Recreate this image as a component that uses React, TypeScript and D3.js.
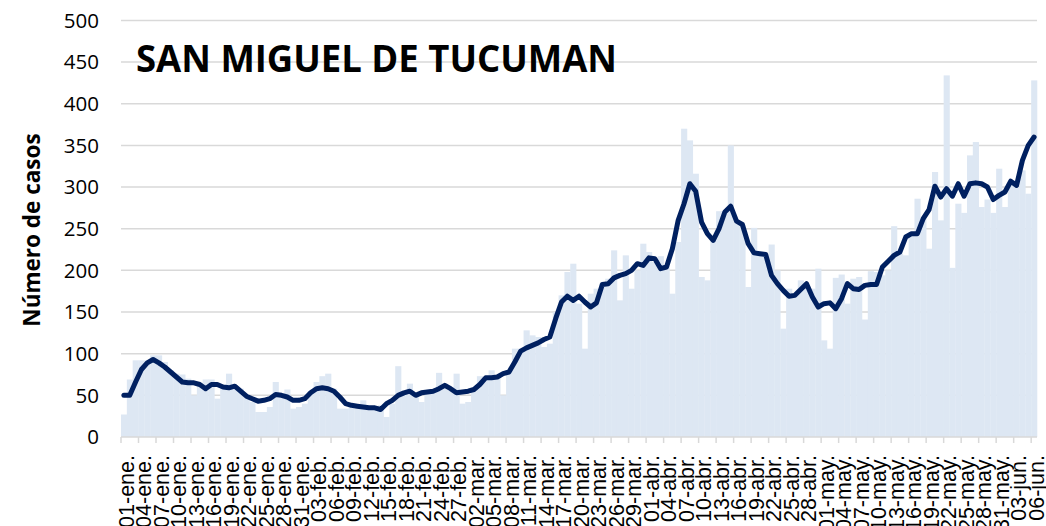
import React, { useEffect, useRef } from "react";
import * as d3 from "d3";

// daily cases, 01-ene to 06-jun
const cases = [
  27, 69, 92, 92, 92, 98, 98, 90, 80, 76,
  75, 70, 50, 65, 69, 69, 46, 62, 76, 62,
  58, 50, 42, 30, 30, 36, 66, 52, 57, 34,
  36, 40, 55, 66, 73, 76, 58, 34, 34, 38,
  36, 44, 36, 35, 38, 24, 40, 85, 55, 64,
  52, 42, 56, 57, 77, 64, 60, 76, 40, 42,
  55, 73, 72, 80, 72, 50, 78, 106, 106, 128,
  122, 120, 108, 112, 150, 170, 198, 208, 160, 106,
  172, 178, 185, 190, 224, 164, 218, 178, 200, 232,
  222, 210, 217, 205, 172, 234, 370, 356, 316, 192,
  188, 238, 271, 271, 350, 260, 255, 180, 251, 220,
  218, 231, 200, 130, 178, 170, 188, 182, 178, 202,
  116, 106, 191, 195, 160, 190, 192, 141, 199, 198,
  194, 200, 253, 220, 218, 245, 286, 262, 226, 318,
  260, 434, 203, 280, 269, 338, 354, 276, 285, 269,
  322, 276, 305, 300, 320, 292, 428,
];

// moving average line
const average = [
  50, 50, 66, 81, 89, 93, 89, 84, 78, 72,
  66, 65, 65, 63, 58, 63, 63, 60, 59, 61,
  55, 49, 46, 43, 44, 46, 51, 50, 48, 44,
  44, 46, 53, 58, 59, 58, 55, 48, 40, 38,
  37, 36, 35, 35, 33, 40, 44, 50, 53, 55,
  50, 53, 54, 55, 58, 62, 58, 53, 54, 55,
  57, 63, 71, 71, 72, 76, 78, 90, 103, 107,
  110, 113, 117, 120, 142, 162, 169, 164, 169, 162,
  156, 161, 183, 184, 191, 194, 196, 200, 208, 206,
  215, 214, 202, 204, 226, 260, 280, 304, 295, 258,
  244, 236, 250, 270, 277, 259, 255, 232, 221, 220,
  219, 194, 184, 176, 169, 170, 177, 184, 168, 156,
  160, 161, 154, 166, 184, 178, 177, 182, 183, 183,
  204, 211, 218, 222, 240, 244, 244, 262, 273, 301,
  288, 298, 289, 304, 289, 304, 305, 304, 300, 285,
  290, 294, 307, 302, 332, 350, 360,
];

// one label every third day
const tickLabels = [
  "01-ene.", "04-ene.", "07-ene.", "10-ene.", "13-ene.", "16-ene.", "19-ene.",
  "22-ene.", "25-ene.", "28-ene.", "31-ene.", "03-feb.", "06-feb.", "09-feb.",
  "12-feb.", "15-feb.", "18-feb.", "21-feb.", "24-feb.", "27-feb.", "02-mar.",
  "05-mar.", "08-mar.", "11-mar.", "14-mar.", "17-mar.", "20-mar.", "23-mar.",
  "26-mar.", "29-mar.", "01-abr.", "04-abr.", "07-abr.", "10-abr.", "13-abr.",
  "16-abr.", "19-abr.", "22-abr.", "25-abr.", "28-abr.", "01-may.", "04-may.",
  "07-may.", "10-may.", "13-may.", "16-may.", "19-may.", "22-may.", "25-may.",
  "28-may.", "31-may.", "03-jun.", "06-jun.",
];

const yTicks = [0, 50, 100, 150, 200, 250, 300, 350, 400, 450, 500];

const App = () => {
  const svgRef = useRef<SVGSVGElement>(null);

  useEffect(() => {
    drawChart();
  }, []);

  const drawChart = () => {
    const left = 121;
    const right = 1037;
    const top = 20.4;
    const bottom = 437;

    const svg = d3.select(svgRef.current);
    svg.selectAll("*").remove();

    const days = d3.range(cases.length);
    const x = d3.scaleBand<number>().domain(days).range([left, right]).padding(0);
    const y = d3.scaleLinear().domain([0, 500]).range([bottom, top]);

    // gridlines
    svg
      .append("g")
      .selectAll("line")
      .data(yTicks.filter((t) => t > 0))
      .enter()
      .append("line")
      .attr("x1", left)
      .attr("x2", right)
      .attr("y1", (d) => y(d))
      .attr("y2", (d) => y(d))
      .attr("stroke", "#d9d9d9")
      .attr("stroke-width", 1.5);

    // bars
    svg
      .append("g")
      .selectAll("rect")
      .data(cases)
      .enter()
      .append("rect")
      .attr("x", (d, i) => x(i)!)
      .attr("width", x.bandwidth() + 0.3)
      .attr("y", (d) => y(d))
      .attr("height", (d) => bottom - y(d))
      .attr("fill", "#dde7f3");

    // x axis line + ticks
    svg
      .append("line")
      .attr("x1", left)
      .attr("x2", right)
      .attr("y1", bottom)
      .attr("y2", bottom)
      .attr("stroke", "#d9d9d9")
      .attr("stroke-width", 1.5);

    svg
      .append("g")
      .selectAll("line")
      .data(tickLabels)
      .enter()
      .append("line")
      .attr("x1", (d, i) => x(i * 3)!)
      .attr("x2", (d, i) => x(i * 3)!)
      .attr("y1", bottom)
      .attr("y2", bottom + 6)
      .attr("stroke", "#d9d9d9")
      .attr("stroke-width", 1.5);

    // moving average
    const line = d3
      .line<number>()
      .x((d, i) => x(i)! + x.bandwidth() / 2)
      .y((d) => y(d));

    svg
      .append("path")
      .datum(average)
      .attr("d", line)
      .attr("fill", "none")
      .attr("stroke", "#002060")
      .attr("stroke-width", 5)
      .attr("stroke-linejoin", "round")
      .attr("stroke-linecap", "round");

    // y tick labels
    svg
      .append("g")
      .selectAll("text")
      .data(yTicks)
      .enter()
      .append("text")
      .attr("x", 99)
      .attr("y", (d) => y(d))
      .attr("dy", "0.36em")
      .attr("text-anchor", "end")
      .style("font-family", "'Open Sans', sans-serif")
      .style("font-size", "20.5px")
      .style("fill", "#000")
      .text((d) => d);

    // x tick labels
    svg
      .append("g")
      .selectAll("text")
      .data(tickLabels)
      .enter()
      .append("text")
      .attr(
        "transform",
        (d, i) => `translate(${x(i * 3)! + x.bandwidth() / 2 + 2},455) rotate(-90)`
      )
      .attr("dy", "0.36em")
      .attr("text-anchor", "end")
      .style("font-family", "'Liberation Sans', Arial, sans-serif")
      .style("font-size", "21.5px")
      .style("fill", "#000")
      .text((d) => d);

    // y axis title
    svg
      .append("text")
      .attr("transform", "translate(40,230) rotate(-90)")
      .attr("text-anchor", "middle")
      .style("font-family", "'Open Sans', sans-serif")
      .style("font-size", "22.5px")
      .style("font-weight", "bold")
      .style("fill", "#000")
      .text("Número de casos");

    // title
    svg
      .append("text")
      .attr("x", 136)
      .attr("y", 72)
      .attr("textLength", 481)
      .attr("lengthAdjust", "spacingAndGlyphs")
      .style("font-family", "'Open Sans', sans-serif")
      .style("font-size", "38px")
      .style("font-weight", "bold")
      .style("fill", "#000")
      .text("SAN MIGUEL DE TUCUMAN");
  };

  return (
    <svg
      ref={svgRef}
      width={1046}
      height={526}
      style={{ position: "absolute", left: 0, top: 0, background: "#fff" }}
    ></svg>
  );
};

export default App;
